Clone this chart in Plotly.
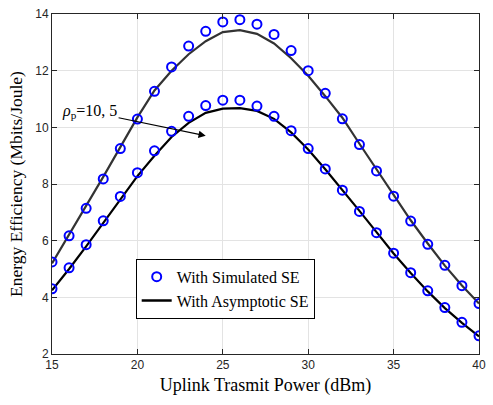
import plotly.graph_objects as go

power_dbm = list(range(15, 41))

sim_rho10 = [5.25, 6.17, 7.14, 8.18, 9.25, 10.29, 11.27, 12.13, 12.87, 13.39, 13.72, 13.80,
             13.64, 13.28, 12.71, 12.00, 11.20, 10.30, 9.39, 8.46, 7.57, 6.69, 5.87, 5.13, 4.41, 3.78]
sim_rho5 = [4.30, 5.04, 5.86, 6.70, 7.56, 8.40, 9.17, 9.86, 10.39, 10.77, 10.96, 10.96,
            10.75, 10.39, 9.88, 9.25, 8.53, 7.78, 7.03, 6.28, 5.56, 4.87, 4.23, 3.64, 3.12, 2.64]

asy_rho10 = [5.20, 6.20, 7.20, 8.25, 9.30, 10.35, 11.30, 12.00, 12.58, 13.04, 13.36, 13.43,
             13.30, 12.96, 12.44, 11.82, 11.10, 10.34, 9.42, 8.53, 7.60, 6.72, 5.90, 5.12, 4.42, 3.78]
asy_rho5 = [4.25, 5.00, 5.80, 6.62, 7.46, 8.28, 9.00, 9.66, 10.16, 10.51, 10.66, 10.68,
            10.58, 10.30, 9.82, 9.22, 8.52, 7.80, 7.05, 6.30, 5.55, 4.86, 4.21, 3.62, 3.10, 2.62]

x_ticks = [15, 20, 25, 30, 35, 40]
y_ticks = [2, 4, 6, 8, 10, 12, 14]

serif = "Liberation Serif, Times New Roman, serif"
sans = "Liberation Sans, Arial, sans-serif"

fig = go.Figure()

fig.add_trace(go.Scatter(x=power_dbm, y=asy_rho10, mode="lines",
                         line=dict(color="#333333", width=2.2), showlegend=False))
fig.add_trace(go.Scatter(x=power_dbm, y=asy_rho5, mode="lines",
                         line=dict(color="#000000", width=2.2), showlegend=False))
fig.add_trace(go.Scatter(x=power_dbm, y=sim_rho10, mode="markers", name="With Simulated SE",
                         marker=dict(symbol="circle-open", size=9, color="#0000FF",
                                     line=dict(width=2, color="#0000FF"))))
fig.add_trace(go.Scatter(x=power_dbm, y=sim_rho5, mode="markers", showlegend=False,
                         marker=dict(symbol="circle-open", size=9, color="#0000FF",
                                     line=dict(width=2, color="#0000FF"))))
# legend-only entry for the asymptotic curve
fig.add_trace(go.Scatter(x=[None], y=[None], mode="lines", name="With Asymptotic SE",
                         line=dict(color="#000000", width=2.5)))

fig.add_annotation(x=24, y=9.7, ax=17.2, ay=10.55, xref="x", yref="y", axref="x", ayref="y",
                   text="<i>ρ</i><sub>p</sub>=10, 5", showarrow=True, arrowhead=2,
                   arrowsize=1.2, arrowwidth=1.2, arrowcolor="#000000",
                   font=dict(family=serif, size=16, color="#000000"))

axis_common = dict(showgrid=True, gridcolor="#E3E3E3", gridwidth=1,
                   showline=True, linecolor="#262626", linewidth=1, mirror="ticks",
                   ticks="inside", ticklen=5, tickcolor="#262626",
                   tickfont=dict(family=sans, size=12, color="#262626"), zeroline=False)

fig.update_xaxes(range=[15, 40], tickvals=x_ticks,
                 title=dict(text="Uplink Trasmit Power (dBm)",
                            font=dict(family=serif, size=18, color="#000000"), standoff=6),
                 **axis_common)
fig.update_yaxes(range=[2, 14], tickvals=y_ticks,
                 title=dict(text="Energy Efficiency (Mbits/Joule)",
                            font=dict(family=serif, size=17.5, color="#000000"), standoff=8),
                 **axis_common)

fig.update_layout(
    width=493, height=405,
    margin=dict(l=52, r=7, t=12, b=51),
    plot_bgcolor="white", paper_bgcolor="white",
    legend=dict(x=0.196, y=0.28, xanchor="left", yanchor="top",
                bgcolor="white", bordercolor="#000000", borderwidth=1,
                font=dict(family=serif, size=16, color="#000000"),
                tracegroupgap=0, itemwidth=30),
)

fig.write_html("out.html")
